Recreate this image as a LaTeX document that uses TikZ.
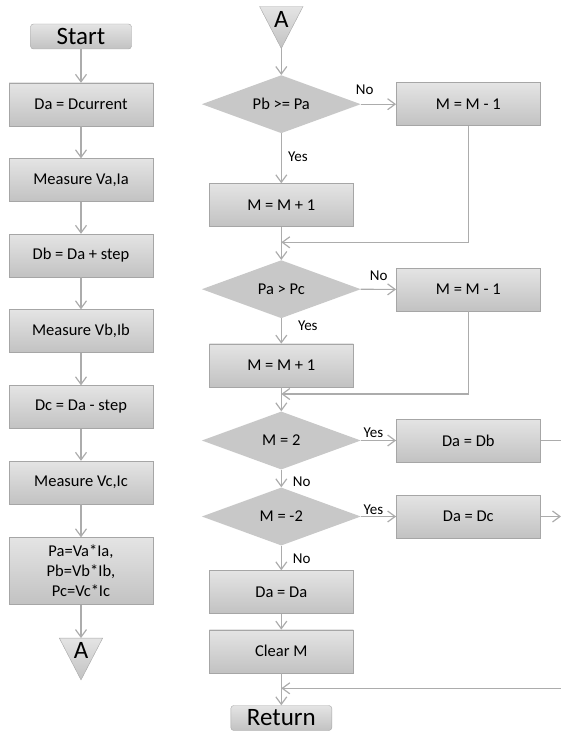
\documentclass[tikz,border=0pt]{standalone}
\usepackage{fontspec}
\setmainfont{Carlito}
\usetikzlibrary{shapes.geometric}
\usetikzlibrary{arrows.meta}
\definecolor{boxtop}{RGB}{228,228,228}
\definecolor{boxbot}{RGB}{194,194,194}
\definecolor{boxline}{RGB}{166,166,166}
\definecolor{dmdfill}{RGB}{200,200,200}
\definecolor{arrline}{RGB}{172,172,172}

\begin{document}
\begin{tikzpicture}[x=1pt,y=-1pt,
  proc/.style={draw=boxline, top color=boxtop, bottom color=boxbot, minimum width=144pt, minimum height=43pt, inner sep=0pt, align=center, font=\fontsize{16.5}{20}\selectfont},
  term/.style={proc, rounded corners=3pt, minimum width=101pt, minimum height=25pt, font=\fontsize{25}{30}\selectfont},
  dec/.style={diamond, fill=dmdfill, aspect=2.7, inner sep=0pt, minimum width=159pt, minimum height=58pt, font=\fontsize{16.5}{20}\selectfont},
  conn/.style={inner sep=0pt, minimum width=43pt, minimum height=41.5pt},
  tri/.style={draw=boxline, top color=boxtop, bottom color=boxbot},
  bigtxt/.style={inner sep=0pt, font=\fontsize{25}{30}\selectfont},
  lbl/.style={inner sep=0pt, font=\fontsize{15}{18}\selectfont},
  flow/.style={draw=arrline, line width=1.2pt, -{Straight Barb[length=\l, width=\w]}},
  plainline/.style={draw=arrline, line width=1.2pt}]
\def\l{7.5pt}
\def\w{11pt}
\useasboundingbox (0,0) rectangle (561,733);
% left column
\node [term, name=start] at (81,36.5) {Start};
\node [proc, name=s1] at (81,104.5) {Da = Dcurrent};
\node [proc, name=s2] at (81,180) {Measure Va,Ia};
\node [proc, name=s3] at (81,255.5) {Db = Da + step};
\node [proc, name=s4] at (81,331) {Measure Vb,Ib};
\node [proc, name=s5] at (81,407) {Dc = Da - step};
\node [proc, name=s6] at (81,482.5) {Measure Vc,Ic};
\node [proc, minimum height=67pt, name=s7] at (81,571) {Pa=Va*Ia,\\Pb=Vb*Ib,\\Pc=Vc*Ic};
\node [conn, name=a1] at (81,659) {};
\path [tri] (a1.north west) -- (a1.north east) -- (a1.south) -- cycle;
\node [bigtxt, name=a1t] at (81,650) {A};
% right column
\node [conn, name=a2] at (281.3,27.5) {};
\path [tri] (a2.north west) -- (a2.north east) -- (a2.south) -- cycle;
\node [bigtxt, name=a2t] at (281.3,19) {A};
\node [dec, name=d1] at (281.3,104.2) {Pb >= Pa};
\node [proc, name=mm1] at (468.3,104.2) {M = M - 1};
\node [proc, name=p1] at (281.3,205) {M = M + 1};
\coordinate (j1) at (281.3,242.3);
\node [dec, name=d2] at (281.3,289.2) {Pa > Pc};
\node [proc, name=mm2] at (468.3,289.5) {M = M - 1};
\node [proc, name=p2] at (281.3,365.3) {M = M + 1};
\coordinate (j2) at (281.3,394);
\node [dec, name=d3] at (281.3,440.5) {M = 2};
\node [proc, name=db] at (468.3,440.5) {Da = Db};
\coordinate (e1) at (561,440.5);
\node [dec, name=d4] at (281.3,516.5) {M = -2};
\node [proc, name=dc] at (468.3,516.5) {Da = Dc};
\coordinate (e2) at (561,516.5);
\node [proc, name=dd] at (281.3,592) {Da = Da};
\node [proc, name=cm] at (281.3,651.3) {Clear M};
\coordinate (e3) at (561,688.3);
\coordinate (j3) at (281.3,688.3);
\node [term, name=ret] at (281.3,718) {Return};
% labels
\node [lbl, name=n1] at (364.7,90) {No};
\node [lbl, name=y1] at (298,157) {Yes};
\node [lbl, name=n2] at (378.7,275.5) {No};
\node [lbl, name=y2] at (307.8,326) {Yes};
\node [lbl, name=y3] at (373.5,433) {Yes};
\node [lbl, name=n3] at (301.7,482) {No};
\node [lbl, name=y4] at (373.5,510) {Yes};
\node [lbl, name=n4] at (301.7,559) {No};
% arrows
\draw [flow] (start) -- (s1);
\draw [flow] (s1) -- (s2);
\draw [flow] (s2) -- (s3);
\draw [flow] (s3) -- (s4);
\draw [flow] (s4) -- (s5);
\draw [flow] (s5) -- (s6);
\draw [flow] (s6) -- (s7);
\draw [flow] (s7) -- (a1.north);
\draw [flow] (a2.south) -- (d1);
\draw [flow] (d1) -- (mm1);
\draw [flow] (d1) -- (p1);
\draw [flow] (mm1.south) |- (j1);
\draw [flow] (p1) -- (d2);
\draw [flow] (d2) -- (mm2);
\draw [flow] (d2) -- (p2);
\draw [flow] (mm2.south) |- (j2);
\draw [flow] (p2) -- (d3);
\draw [flow] (d3) -- (db);
\draw [plainline] (db) -- (e1);
\draw [flow] (d3) -- (d4);
\draw [flow] (d4) -- (dc);
\draw [flow] (dc) -- (e2);
\draw [flow] (d4) -- (dd);
\draw [flow] (dd) -- (cm);
\draw [flow] (e3) -- (j3);
\draw [flow] (cm) -- (ret);
\end{tikzpicture}
\end{document}
